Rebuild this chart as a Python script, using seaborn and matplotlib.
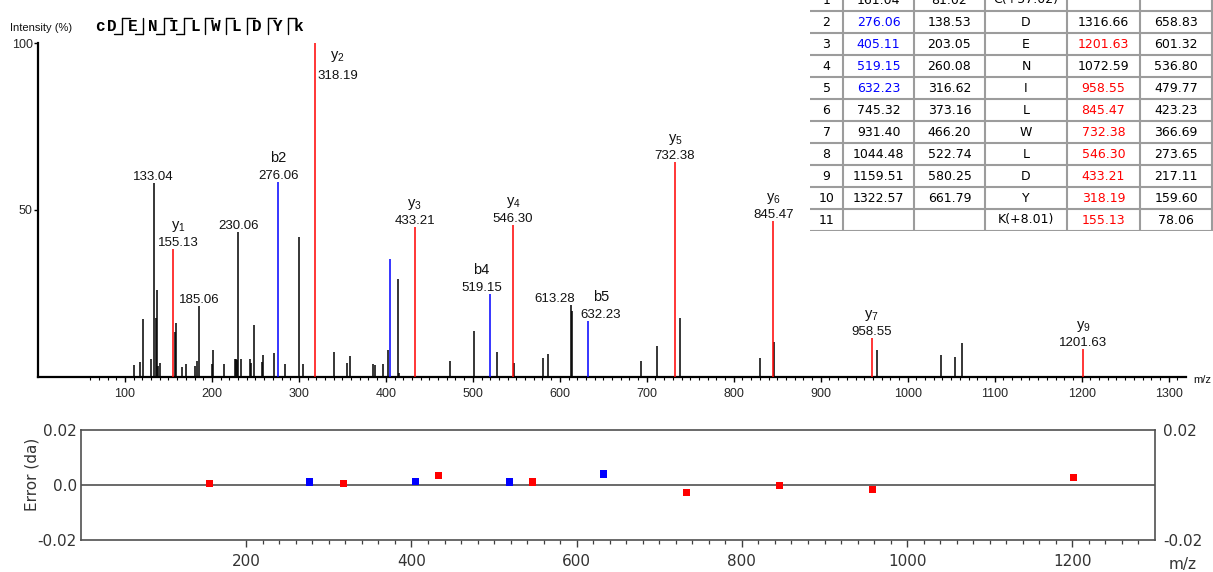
import numpy as np
import pandas as pd
import matplotlib
matplotlib.use("Agg")
import matplotlib.pyplot as plt
from matplotlib.ticker import FixedLocator, NullFormatter
import seaborn as sns

# ------------------------------------------------------------------ data
peak_mz = [110.6, 117.2, 120.2, 129.8, 133.04, 135.6, 136.7, 137.9, 140.5,
           155.13, 157.4, 158.9, 165.0, 170.0, 180.7, 182.6, 185.06, 200.0,
           201.0, 213.3, 226.3, 227.5, 228.3, 230.06, 233.2, 244.3, 245.4,
           248.1, 257.7, 258.9, 271.9, 276.06, 284.0, 300.2, 304.4, 318.19,
           340.4, 355.7, 358.4, 385.2, 387.1, 397.1, 402.9, 405.11, 413.9,
           415.0, 433.21, 473.3, 501.2, 519.15, 527.3, 546.30, 547.6, 580.1,
           586.6, 613.28, 614.2, 632.23, 693.5, 711.5, 732.38, 737.9, 829.6,
           845.47, 846.8, 958.55, 965.0, 1038.0, 1054.7, 1063.0, 1201.63]
peak_int = [3.5, 4.5, 17.3, 5.3, 58.0, 17.8, 26.0, 3.3, 4.3,
            38.3, 13.5, 16.3, 3.1, 3.8, 3.3, 4.9, 21.3, 3.8,
            8.1, 3.8, 5.3, 5.5, 5.0, 43.4, 5.3, 5.3, 4.3,
            15.5, 4.5, 6.5, 7.3, 58.4, 3.8, 41.8, 3.8, 100.0,
            7.4, 4.2, 6.2, 3.8, 3.5, 3.8, 8.2, 35.4, 29.4,
            1.2, 45.0, 4.7, 13.8, 24.8, 7.5, 45.5, 4.3, 5.7,
            6.9, 21.6, 19.7, 16.8, 4.8, 9.3, 64.4, 17.7, 5.7,
            46.7, 10.5, 11.7, 8.1, 6.5, 5.9, 10.3, 8.3]
peak_ion = ['', '', '', '', '', '', '', '', '',
            'y1', '', '', '', '', '', '', '', '',
            '', '', '', '', '', '', '', '', '',
            '', '', '', '', 'b2', '', '', '', 'y2',
            '', '', '', '', '', '', '', 'b3', '',
            '', 'y3', '', '', 'b4', '', 'y4', '', '',
            '', '', '', 'b5', '', '', 'y5', '', '',
            'y6', '', 'y7', '', '', '', '', 'y9']
unassigned_labeled = [133.04, 185.06, 230.06, 613.28]
unlabeled_ions = ['b3']

# fragment table
frag_no = [1, 2, 3, 4, 5, 6, 7, 8, 9, 10, 11]
b_mass = ['161.04', '276.06', '405.11', '519.15', '632.23', '745.32', '931.40',
          '1044.48', '1159.51', '1322.57', '']
b2_mass = ['81.02', '138.53', '203.05', '260.08', '316.62', '373.16', '466.20',
           '522.74', '580.25', '661.79', '']
residues = ['C(+57.02)', 'D', 'E', 'N', 'I', 'L', 'W', 'L', 'D', 'Y', 'K(+8.01)']
y_mass = ['', '1316.66', '1201.63', '1072.59', '958.55', '845.47', '732.38',
          '546.30', '433.21', '318.19', '155.13']
y2_mass = ['', '658.83', '601.32', '536.80', '479.77', '423.23', '366.69',
           '273.65', '217.11', '159.60', '78.06']
sequence_display = ['c', 'D', 'E', 'N', 'I', 'L', 'W', 'L', 'D', 'Y', 'k']

# mass errors of matched ions
err_mz = [155.13, 276.06, 318.19, 405.11, 433.21, 519.15, 546.30, 632.23,
          732.38, 845.47, 958.55, 1201.63]
err_da = [0.0004, 0.0011, 0.0004, 0.0014, 0.0034, 0.0011, 0.0011, 0.0040,
          -0.0028, -0.0003, -0.0016, 0.0028]
err_type = ['y', 'b', 'y', 'b', 'y', 'b', 'y', 'b', 'y', 'y', 'y', 'y']

# ------------------------------------------------------------------ style
sns.set_theme(style="white")
plt.rcParams['font.family'] = ['Liberation Sans', 'DejaVu Sans']
plt.rcParams['mathtext.default'] = 'regular'

RED = '#ff0000'
BLUE = '#0000ff'
W, H = 1213, 572
PT = 0.72  # points per pixel at dpi 100

fig = plt.figure(figsize=(W / 100, H / 100), dpi=100)
fig.patch.set_facecolor('white')


def fx(px):
    return px / W


def fy(py):
    return 1 - py / H


# ------------------------------------------------------------------ spectrum
ax = fig.add_axes([fx(38), fy(377), fx(1186 - 38), (377 - 43) / H])
ax.set_xlim(0, 1320)
ax.set_ylim(0, 100)
ax.set_facecolor('white')

color_map = {'': 'black', 'b': BLUE, 'y': RED}
peak_colors = [color_map[i[:1]] for i in peak_ion]
order = sorted(range(len(peak_mz)), key=lambda k: peak_ion[k] != '')
ax.vlines([peak_mz[k] for k in order], 0, [peak_int[k] for k in order],
          colors=[peak_colors[k] for k in order], lw=1.1, zorder=3)

for s in ['top', 'right']:
    ax.spines[s].set_visible(False)
for s in ['left', 'bottom']:
    ax.spines[s].set_color('black')
    ax.spines[s].set_linewidth(1.6)
ax.set_yticks([50, 100])
ax.set_yticklabels(['50', '100'])
ax.xaxis.set_major_locator(FixedLocator(np.arange(100, 1301, 100)))
ax.xaxis.set_minor_locator(FixedLocator(np.arange(60, 1311, 10)))
ax.xaxis.set_minor_formatter(NullFormatter())
ax.tick_params(axis='x', which='major', length=5 * PT, width=1, color='black',
               direction='out', labelsize=9, pad=4, bottom=True)
ax.tick_params(axis='x', which='minor', length=3 * PT, width=0.8, color='black',
               direction='out', bottom=True)
ax.tick_params(axis='y', which='major', length=4 * PT, width=1, color='black',
               direction='out', labelsize=9, pad=1, left=True)

label_nudge = {155.13: 5, 519.15: -8, 613.28: -17, 632.23: 13}

for mz, it, ion in zip(peak_mz, peak_int, peak_ion):
    show = (ion != '' and ion not in unlabeled_ions) or (mz in unassigned_labeled)
    if not show:
        continue
    if ion.startswith('y'):
        name = '$\\mathregular{y_{%s}}$' % ion[1:]
    else:
        name = ion
    dx = label_nudge.get(mz, 0)
    if it > 90:
        vo, no, dx = -36, -16, 23
    else:
        vo, no = 3, 20
    ax.annotate(f'{mz:.2f}', xy=(mz, it), xytext=(dx * PT, vo * PT),
                textcoords='offset points', ha='center', va='baseline',
                fontsize=9.5, color='#111111', annotation_clip=False)
    if name:
        ax.annotate(name, xy=(mz, it), xytext=(dx * PT, no * PT),
                    textcoords='offset points', ha='center', va='baseline',
                    fontsize=10.5, color='#111111', annotation_clip=False)

# ------------------------------------------------------------------ error panel
ax2 = fig.add_axes([fx(81), fy(540), fx(1074), 110 / H])
ax2.set_facecolor('white')
err_df = pd.DataFrame({'mz': err_mz, 'err': err_da, 'ion': err_type})
ax2.axhline(0, color='#505050', lw=1.2, zorder=1)
sns.scatterplot(data=err_df, x='mz', y='err', hue='ion',
                palette={'b': BLUE, 'y': RED}, marker='s', s=26,
                edgecolor='none', legend=False, ax=ax2, zorder=3)
ax2.set_xlim(0, 1300)
ax2.set_ylim(-0.02, 0.02)
ax2.set_xlabel('')
ax2.set_ylabel('')
for s in ax2.spines.values():
    s.set_visible(True)
    s.set_color('#505050')
    s.set_linewidth(1.2)
ax2.xaxis.set_major_locator(FixedLocator(np.arange(200, 1201, 200)))
ax2.xaxis.set_minor_locator(FixedLocator(np.arange(200, 1291, 20)))
ax2.xaxis.set_minor_formatter(NullFormatter())
ax2.tick_params(axis='x', which='major', length=7 * PT, width=1, color='#404040',
                direction='out', labelsize=11, labelcolor='#333333', pad=5,
                bottom=True, labelfontfamily='DejaVu Sans')
ax2.tick_params(axis='x', which='minor', length=4 * PT, width=0.9, color='#404040',
                direction='out', bottom=True)
ax2.set_yticks([-0.02, 0.0, 0.02])
ax2.set_yticklabels(['-0.02', '0.0', '0.02'])
ax2.tick_params(axis='y', length=0, labelsize=11, labelcolor='#333333', pad=3,
                labelfontfamily='DejaVu Sans')
ax2r = ax2.twinx()
ax2r.set_ylim(-0.02, 0.02)
ax2r.set_yticks([-0.02, 0.02])
ax2r.set_yticklabels(['-0.02', '0.02'])
ax2r.tick_params(axis='y', length=0, labelsize=11, labelcolor='#333333', pad=6,
                 labelfontfamily='DejaVu Sans', right=True)
for s in ax2r.spines.values():
    s.set_visible(False)

# ------------------------------------------------------------------ overlay (text & sequence header)
ov = fig.add_axes([0, 0, 1, 1], zorder=6)
ov.set_xlim(0, W)
ov.set_ylim(H, 0)
ov.axis('off')
ov.patch.set_alpha(0)

ov.text(10, 28, 'Intensity (%)', ha='left', va='center', fontsize=8, color='#111111')
ov.text(1193, 380, 'm/z', ha='left', va='center', fontsize=8, color='#111111')
ov.text(32, 474, 'Error (da)', ha='center', va='center', rotation=90,
        fontsize=11, color='#333333', family='DejaVu Sans')
ov.text(1183, 565, 'm/z', ha='center', va='center', fontsize=11,
        color='#333333', family='DejaVu Sans')

observed = set(peak_ion) - {''}
n_res = len(sequence_display)
x = 100.0
for i, ch in enumerate(sequence_display):
    if i > 0:
        has_b = f'b{i}' in observed
        has_y = f'y{n_res - i}' in observed
        step = 20.8 if (has_b or has_y) else 11.5
        mid = x + step / 2
        if has_b or has_y:
            ov.plot([mid, mid], [18.0, 34.0], color='black', lw=1)
        if has_b:
            ov.plot([mid - 8, mid], [34.0, 34.0], color='black', lw=1)
        if has_y:
            ov.plot([mid, mid + 8], [18.0, 18.0], color='black', lw=1)
        x += step
    ov.text(x, 26.5, ch, ha='center', va='center', family='Liberation Mono',
            fontweight='bold', fontsize=11.5, color='black')

# ------------------------------------------------------------------ fragment table
tb = fig.add_axes([fx(810), fy(231), fx(404), 242 / H], zorder=5)
tb.set_xlim(0, 404)
tb.set_ylim(231, -11)
tb.set_facecolor('white')
tb.set_xticks([])
tb.set_yticks([])
for s in tb.spines.values():
    s.set_visible(False)

col_edges = [0, 33, 104, 175, 257, 330, 402]
col_centers = [(a + b) / 2 for a, b in zip(col_edges[:-1], col_edges[1:])]
grid_c = '#9c9c9c'
tb.hlines([11 + 22 * k for k in range(len(frag_no))], 0, 402, color=grid_c, lw=1.5)
tb.vlines(col_edges[1:], -11, 231, color=grid_c, lw=1.5)

for r, (no, bm, b2m, res, ym, y2m) in enumerate(zip(frag_no, b_mass, b2_mass,
                                                     residues, y_mass, y2_mass)):
    yc = 22 * r
    b_col = BLUE if f'b{no}' in observed else 'black'
    y_col = RED if f'y{n_res - no + 1}' in observed else 'black'
    vals = [(str(no), 'black'), (bm, b_col), (b2m, 'black'), (res, 'black'),
            (ym, y_col), (y2m, 'black')]
    for cx, (t, c) in zip(col_centers, vals):
        tb.text(cx, yc, t, ha='center', va='center', fontsize=9, color=c,
                family='DejaVu Sans')

fig.savefig('out.png', dpi=100, facecolor='white')
